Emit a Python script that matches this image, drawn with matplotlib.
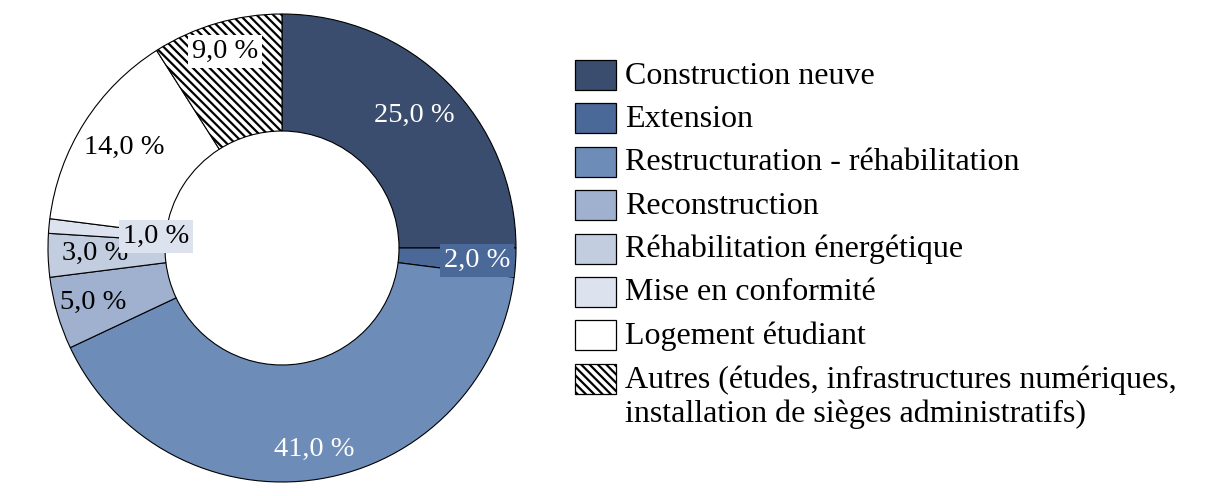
import matplotlib.pyplot as plt
from matplotlib.patches import Rectangle
import numpy as np

# data
categories = ['Construction neuve', 'Extension', 'Restructuration - réhabilitation',
              'Reconstruction', 'Réhabilitation énergétique', 'Mise en conformité',
              'Logement étudiant',
              'Autres (études, infrastructures numériques,\ninstallation de sièges administratifs)']
shares = [25.0, 2.0, 41.0, 5.0, 3.0, 1.0, 14.0, 9.0]

colors = ['#3a4d6e', '#4a6898', '#6d8db8', '#9fb1cf', '#c3cde0', '#dde3ee', '#ffffff', '#ffffff']
text_colors = ['white', 'white', 'white', 'black', 'black', 'black', 'black', 'black']
label_r = [0.80, 0.835, 0.87, 0.84, 0.80, 0.54, 0.80, 0.875]
label_box = [None, '#4a6898', None, None, None, '#dde3ee', None, '#ffffff']
hatch = '\\\\\\\\'

plt.rcParams['font.family'] = ['Liberation Serif', 'DejaVu Serif']
plt.rcParams['hatch.linewidth'] = 1.6

W, H = 1215, 496
fig = plt.figure(figsize=(W / 100, H / 100), dpi=100)
ax = fig.add_axes([48 / W, 14 / H, 468 / W, 468 / H])

wedges, _ = ax.pie(shares, colors=colors, startangle=90, counterclock=False, radius=1,
                   wedgeprops=dict(width=0.5, edgecolor='black', linewidth=0.8))
wedges[-1].set_hatch(hatch)

for w, val, r, tc, bc in zip(wedges, shares, label_r, text_colors, label_box):
    ang = np.deg2rad((w.theta1 + w.theta2) / 2)
    txt = f"{val:.1f}".replace('.', ',') + ' %'
    bbox = dict(boxstyle='square,pad=0.14', fc=bc, ec='none') if bc else None
    ax.text(r * np.cos(ang), r * np.sin(ang), txt, ha='center', va='center',
            fontsize=20.5, color=tc, bbox=bbox)

ax.set_xlim(-1, 1)
ax.set_ylim(-1, 1)
ax.axis('off')

# legend drawn by hand so the multi-line entry keeps its box on the first line
y0, step = 75, 43.4
for i, (lab, c) in enumerate(zip(categories, colors)):
    yc = y0 + i * step
    rect = Rectangle((575 / W, 1 - (yc + 15) / H), 41 / W, 30 / H, transform=fig.transFigure,
                     fc=c, ec='black', lw=0.9, hatch=hatch if i == len(categories) - 1 else None)
    fig.patches.append(rect)
    for j, line in enumerate(lab.split('\n')):
        fig.text(625 / W, 1 - (yc + 1 + j * 34) / H, line, ha='left', va='center',
                 fontsize=23, color='black')

fig.savefig('out.png', dpi=100)
